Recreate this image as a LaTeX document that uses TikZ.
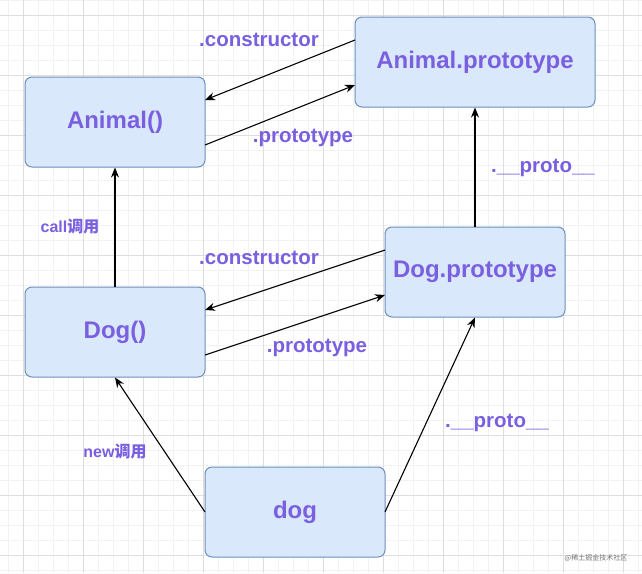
\documentclass[tikz,border=0pt]{standalone}
\usepackage{fontspec}
\setmainfont{Liberation Sans}
\newfontfamily\cjk{Noto Sans CJK SC}
\usetikzlibrary{arrows.meta}
\definecolor{txt}{HTML}{7A5FE0}
\definecolor{bfill}{HTML}{DAE8FC}
\definecolor{bline}{HTML}{6C8EBF}
\tikzset{
  box/.style={draw=bline,fill=bfill,rounded corners=7pt,line width=1pt,minimum width=180pt,minimum height=90pt,text=txt,font=\fontsize{24}{26}\selectfont\bfseries},
  lbl/.style={text=txt,font=\fontsize{20.5}{22}\selectfont\bfseries},
  small/.style={text=txt,font=\fontsize{16}{18}\selectfont\bfseries},
  conn/.style={-{Stealth[length=10pt,width=8pt]},line width=1.1pt}
}
\begin{document}
\begin{tikzpicture}[x=1pt,y=-1pt]
\useasboundingbox (0,0) rectangle (642,573);
\fill[white] (0,0) rectangle (642,573);
\foreach \x in {8,23,...,642} \draw[black!5,line width=0.5pt] (\x,0) -- (\x,573);
\foreach \y in {0,15,...,573} \draw[black!5,line width=0.5pt] (0,\y) -- (642,\y);
\foreach \x in {23,83,...,642} \draw[black!13,line width=0.6pt] (\x,0) -- (\x,573);
\foreach \y in {15,75,...,573} \draw[black!13,line width=0.6pt] (0,\y) -- (642,\y);
\node[box] (A) at (115,122) {Animal()};
\node[box,minimum width=240pt] (AP) at (475,62) {Animal.prototype};
\node[box] (DP) at (475,272) {Dog.prototype};
\node[box] (D) at (115,332) {Dog()};
\node[box] (d) at (295,512) {dog};
\coordinate (a1) at (355,40); \coordinate (a2) at (205,100);
\coordinate (a3) at (205,145); \coordinate (a4) at (355,85);
\draw[conn] (a1) -- (a2);
\draw[conn] (a3) -- (a4);
\draw[conn] (DP.north) -- (AP.south);
\draw[conn] (D.north) -- (A.south);
\coordinate (b1) at (385,250); \coordinate (b2) at (205,310);
\coordinate (b3) at (205,355); \coordinate (b4) at (385,295);
\draw[conn] (b1) -- (b2);
\draw[conn] (b3) -- (b4);
\coordinate (c1) at (205,512); \coordinate (c2) at (385,512);
\draw[conn] (c1) -- (D.south);
\draw[conn] (c2) -- (DP.south);
\node[lbl] (l1) at (259,40) {.constructor};
\node[lbl] (l2) at (303,138) {.prototype};
\node[lbl] (l3) at (543,168) {.\_\_proto\_\_};
\node[small] (l4) at (70,227) {call{\cjk 调用}};
\node[lbl] (l5) at (259,258) {.constructor};
\node[lbl] (l6) at (317,348) {.prototype};
\node[small] (l7) at (115,452) {new{\cjk 调用}};
\node[lbl] (l8) at (497,423) {.\_\_proto\_\_};
\node[text=black!55,font=\cjk\fontsize{7}{8}\selectfont] (w) at (596,558) {@稀土掘金技术社区};
\end{tikzpicture}
\end{document}
